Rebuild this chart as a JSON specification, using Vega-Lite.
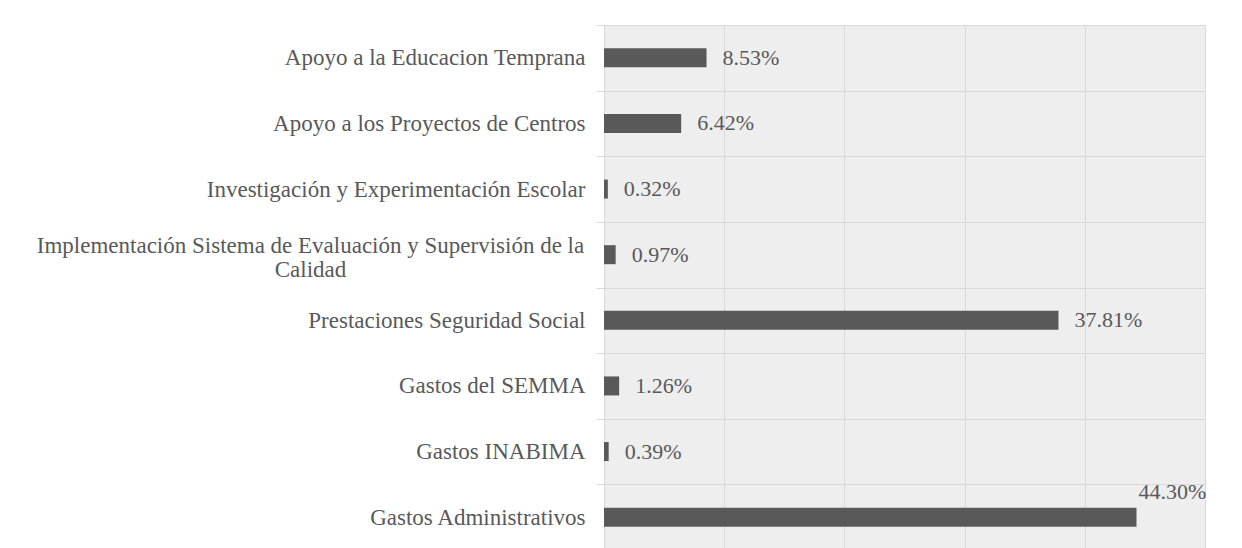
{
  "$schema": "https://vega.github.io/schema/vega-lite/v6.json",
  "autosize": {"type": "none"},
  "width": 601,
  "height": 525,
  "padding": {"left": 604, "top": 25, "right": 37, "bottom": 0},
  "background": "#ffffff",
  "config": {
    "view": {"fill": "#eeeeee", "stroke": null},
    "font": "Liberation Serif",
    "mark": {"font": "Liberation Serif"},
    "text": {"font": "Liberation Serif"}
  },
  "data": {
    "values": [
      {"categoria": "Apoyo a la Educacion Temprana", "valor": 0.0853},
      {"categoria": "Apoyo a los Proyectos de Centros", "valor": 0.0642},
      {"categoria": "Investigación y Experimentación Escolar", "valor": 0.0032},
      {"categoria": "Implementación Sistema de Evaluación y Supervisión de la Calidad", "valor": 0.0097},
      {"categoria": "Prestaciones Seguridad Social", "valor": 0.3781},
      {"categoria": "Gastos del SEMMA", "valor": 0.0126},
      {"categoria": "Gastos INABIMA", "valor": 0.0039},
      {"categoria": "Gastos Administrativos", "valor": 0.4430}
    ]
  },
  "encoding": {
    "y": {
      "field": "categoria",
      "type": "nominal",
      "sort": null,
      "scale": {"paddingInner": 0, "paddingOuter": 0},
      "axis": {
        "title": null,
        "domain": false,
        "grid": true,
        "gridColor": "#d9d9d9",
        "gridWidth": 1,
        "tickBand": "extent",
        "ticks": true,
        "tickSize": 8,
        "tickColor": "#d9d9d9",
        "labelFont": "Liberation Serif",
        "labelFontSize": 23,
        "labelColor": "#595959",
        "labelLimit": 700,
        "labelLineHeight": 24,
        "labelExpr": "datum.value == 'Implementación Sistema de Evaluación y Supervisión de la Calidad' ? ['Implementación Sistema de Evaluación y Supervisión de la', 'Calidad'] : datum.label",
        "labelAlign": {"condition": {"test": "datum.value == 'Implementación Sistema de Evaluación y Supervisión de la Calidad'", "value": "center"}, "value": "right"},
        "labelOffset": {"condition": {"test": "datum.value == 'Implementación Sistema de Evaluación y Supervisión de la Calidad'", "value": -9}, "value": 0},
        "labelPadding": {"condition": {"test": "datum.value == 'Implementación Sistema de Evaluación y Supervisión de la Calidad'", "value": 286}, "value": 11}
      }
    }
  },
  "layer": [
    {
      "mark": {"type": "bar", "color": "#595959", "size": 19},
      "encoding": {
        "x": {
          "field": "valor",
          "type": "quantitative",
          "scale": {"domain": [0, 0.5], "nice": false},
          "axis": {
            "title": null,
            "labels": false,
            "ticks": false,
            "domain": false,
            "grid": true,
            "gridColor": "#d9d9d9",
            "gridWidth": 1,
            "values": [0, 0.1, 0.2, 0.3, 0.4, 0.5]
          }
        }
      }
    },
    {
      "transform": [{"filter": "datum.valor < 0.4"}],
      "mark": {"type": "text", "align": "left", "baseline": "middle", "dx": 16, "fontSize": 22, "color": "#595959", "font": "Liberation Serif"},
      "encoding": {
        "x": {"field": "valor", "type": "quantitative"},
        "text": {"field": "valor", "type": "quantitative", "format": ".2%"}
      }
    },
    {
      "transform": [{"filter": "datum.valor >= 0.4"}],
      "mark": {"type": "text", "align": "left", "baseline": "middle", "dx": 2, "dy": -25, "fontSize": 22, "color": "#595959", "font": "Liberation Serif"},
      "encoding": {
        "x": {"field": "valor", "type": "quantitative"},
        "text": {"field": "valor", "type": "quantitative", "format": ".2%"}
      }
    }
  ]
}
